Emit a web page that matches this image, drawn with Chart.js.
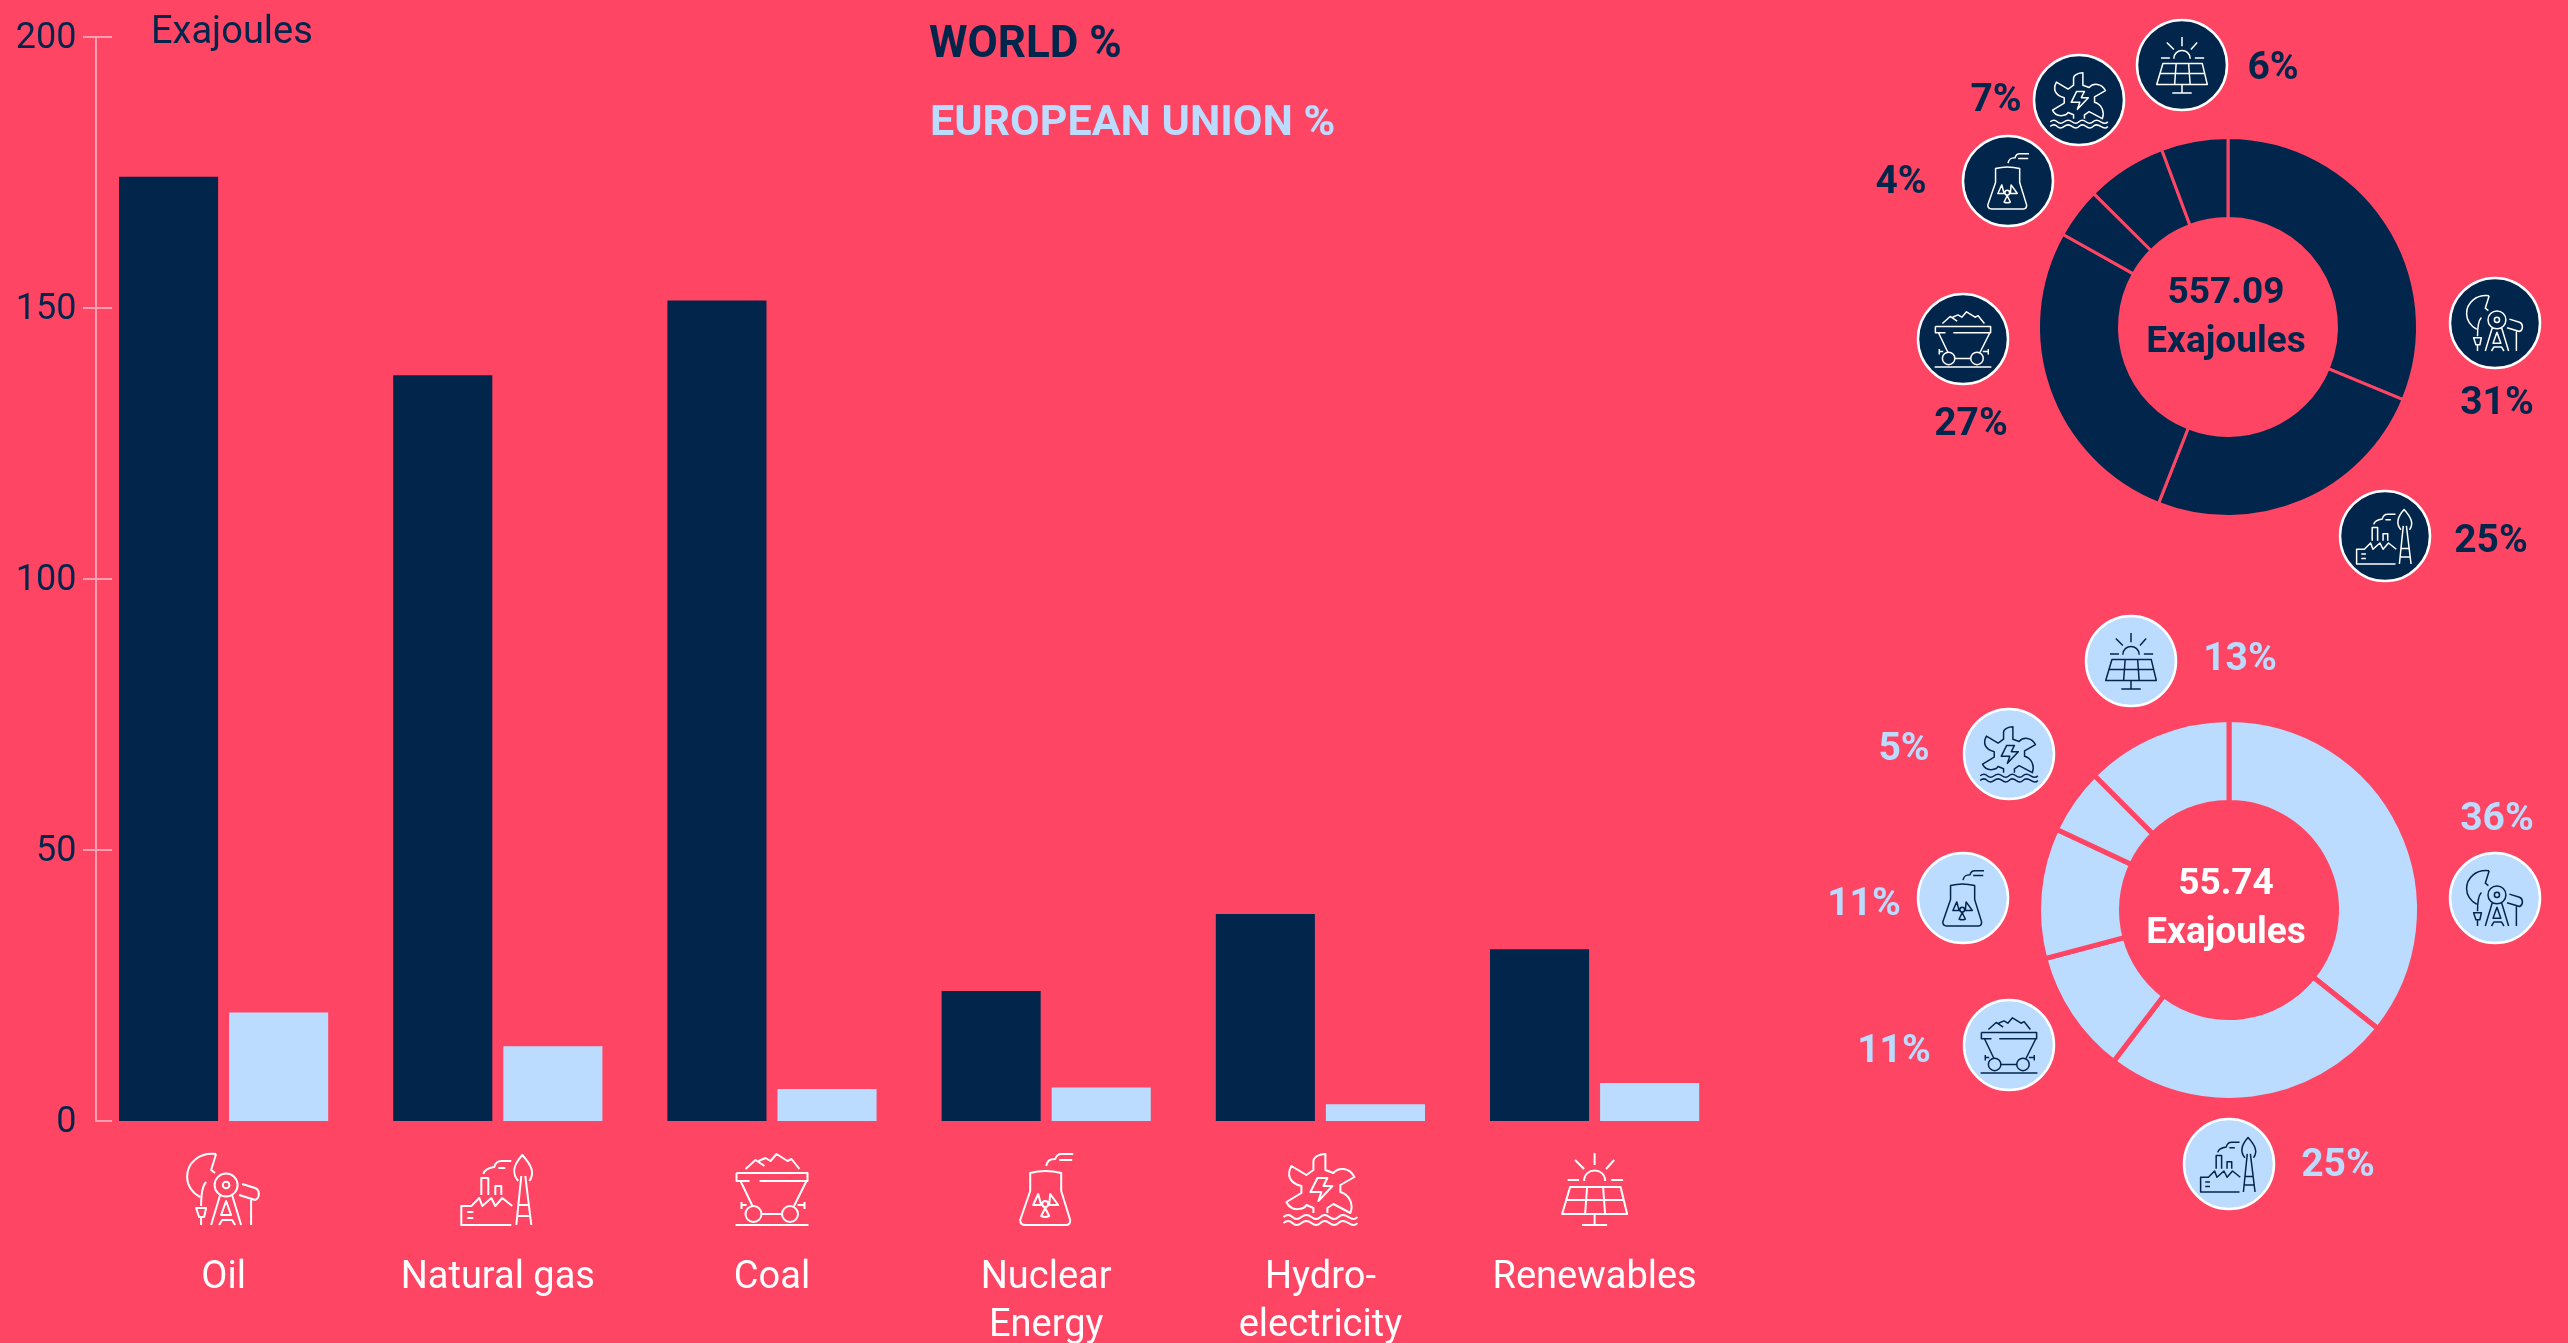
<!DOCTYPE html>
<html>
<head>
<meta charset="utf-8">
<script src="https://cdn.jsdelivr.net/npm/chart.js@4"></script>
<style>
  html, body { margin: 0; padding: 0; background: #ff4564; overflow: hidden; }
  canvas { position: absolute; display: block; }
</style>
</head>
<body>
<canvas id="bars" width="2568" height="1343" style="left:0;top:0"></canvas>
<canvas id="world" width="400" height="400" style="left:2028px;top:127px"></canvas>
<canvas id="eu" width="400" height="400" style="left:2029px;top:710px"></canvas>
<script>
const categories = ['Oil', 'Natural gas', 'Coal', ['Nuclear', 'Energy'], ['Hydro-', 'electricity'], 'Renewables'];
const worldValues = [174.2, 137.6, 151.4, 24.0, 38.2, 31.7];
const euValues = [20.0, 13.8, 5.9, 6.2, 3.1, 7.0];
const worldShare = ['31%', '25%', '27%', '4%', '7%', '6%'];
const euShare = ['36%', '25%', '11%', '11%', '5%', '13%'];
const yTicks = [0, 50, 100, 150, 200];

const RED = '#ff4564';
const NAVY = '#02264b';
const SKY = '#bcdcff';
const FONT = 'Roboto, sans-serif';

// icons are drawn in a box 72 high, iconWidths gives the width of each
const iconWidths = [73, 73, 73, 54, 74, 65];
const icons = [
  // oil
  ['M29 1C12-1 0 10 0 24C0 32 5 40 13 44M29 1L24 17L28 20M19 29C15 33 14 40 14 53M9 55H19L17 64H12ZM14 64V72',
   'M50.5 32A11.5 11.5 0 1 1 27.5 32A11.5 11.5 0 1 1 50.5 32M42.3 32A3.3 3.3 0 1 1 35.7 32A3.3 3.3 0 1 1 42.3 32',
   'M33 42L24 72M45 42L54 72M39 48L34 62H44ZM32 72L35 67H45L48 72',
   'M55 31L68 35C73 37 73 45 68 47L52 42M64 47V72'],
  // natural gas
  ['M50 72H0V53H10L18 45L21 53L30 45L34 53L41 45L51 53M6 59H12M6 65H12',
   'M20 42V25H27V42M34 42V33H40V42M22 21C23 17 26 15 33 14C34 10 36 8 40 8H50M37 15H44',
   'M57 28C50 20 52 12 61 2C70 12 74 20 68 28M60 23L55 72M64 23L70 72M57 52H67M56 63H69'],
  // coal
  ['M1 20H72V28H24M14 28H1V20M5 28L17 53M71 28L58.5 53M6 52H11M6 49V56M62 52H69M69 49V56M26 61H46M0 72H73',
   'M26 61A8 8 0 1 1 10 61A8 8 0 1 1 26 61M62.5 61A8 8 0 1 1 46.5 61A8 8 0 1 1 62.5 61',
   'M10 16L20 7L29 13M23 8L30 5L35 8L41 1L52 8L56 6L64 16'],
  // nuclear
  ['M11 20Q26 16 42 20V38L51 67Q51 72 47 72H6Q1 72 1 67L11 38ZM27 13C28 8 30 6 36 6C37 3 39 1 42 1H54M40 7H53',
   'M19 41L14 52H22ZM31 41L39 52H30ZM22 63Q26 65 30 63L26 55ZM29 51A3 3 0 1 1 23 51A3 3 0 1 1 29 51'],
  // hydro
  ['M30 60V55L23 52C21 56 8 60 3 49L18 40V33C6 30 3 22 8 13L23 22L30 17V8C30 4 36 1 42 1V17L50 20C55 14 66 14 71 24L57 32V39C67 42 70 52 67 60L50 51L44 55V60',
   'M34 25H44L40 33H49L35 48L38 39H27Z',
   'M0 64Q5 60 9 64T18 64T28 64T37 64T46 64T55 64T65 64T74 64M0 70Q5 66 9 70T18 70T28 70T37 70T46 70T55 70T65 70T74 70'],
  // renewables
  ['M32.5 0V12M13 7L22 16M52 7L44 16M5.5 27H17M49 27H61M22 28C22 14 43 14 43 28',
   'M8 34H58.5L65 61H0ZM4 47H61M25 34L23 61M41 34L43 61M32.5 61V72M20 72H45']
];
const iconPaths = icons.map(parts => new Path2D(parts.join('')));

// where the round badges and their numbers sit on the page
const worldBadges = [[2495, 323], [2385, 536], [1963, 339], [2008, 181], [2079, 100], [2182, 65]];
const worldLabels = [[2497, 401], [2491, 539], [1971, 422], [1901, 180], [1996, 98], [2273, 66]];
const euBadges = [[2495, 898], [2229, 1164], [2009, 1045], [1963, 898], [2009, 754], [2131, 661]];
const euLabels = [[2497, 817], [2338, 1163], [1894, 1049], [1864, 902], [1904, 747], [2240, 657]];

function drawIcon(ctx, idx, cx, cy, size, color, lw) {
  const s = size / 72;
  ctx.save();
  ctx.translate(cx - iconWidths[idx] / 2 * s, cy - 36 * s);
  ctx.scale(s, s);
  ctx.strokeStyle = color;
  ctx.lineWidth = lw / s;
  ctx.lineJoin = 'round';
  ctx.stroke(iconPaths[idx]);
  ctx.restore();
}

function drawBadges(ctx, badges, labels, share, fill, iconColor) {
  badges.forEach((b, i) => {
    ctx.beginPath();
    ctx.arc(b[0], b[1], 45, 0, Math.PI * 2);
    ctx.fillStyle = fill;
    ctx.fill();
    ctx.lineWidth = 2.5;
    ctx.strokeStyle = '#ffffff';
    ctx.stroke();
    drawIcon(ctx, i, b[0], b[1], 56, iconColor, 1.5);
    ctx.fillStyle = fill;
    ctx.font = 'bold 39px ' + FONT;
    ctx.fillText(share[i], labels[i][0], labels[i][1] + 3);
  });
}

const pagePlugin = {
  id: 'page',
  afterDatasetsDraw(chart) {
    const ctx = chart.ctx;
    const y = chart.scales.y;
    const x = chart.scales.x;
    ctx.save();
    // y axis line and its ticks
    ctx.strokeStyle = '#ff9fb0';
    ctx.lineWidth = 2;
    ctx.beginPath();
    ctx.moveTo(96, y.getPixelForValue(200));
    ctx.lineTo(96, y.getPixelForValue(0));
    yTicks.forEach(t => {
      const p = y.getPixelForValue(t);
      ctx.moveTo(t === 0 ? 95 : 83, p);
      ctx.lineTo(112, p);
    });
    ctx.stroke();

    ctx.textBaseline = 'middle';
    ctx.textAlign = 'left';
    ctx.fillStyle = NAVY;
    ctx.font = '38px ' + FONT;
    ctx.fillText('Exajoules', 151, 33);
    ctx.font = 'bold 44px ' + FONT;
    ctx.fillText('WORLD %', 929, 46);
    ctx.fillStyle = SKY;
    ctx.font = 'bold 43px ' + FONT;
    ctx.fillText('EUROPEAN UNION %', 930, 124);

    categories.forEach((c, i) => {
      drawIcon(ctx, i, x.getPixelForValue(i), 1189, 72, '#ffffff', 2);
    });

    ctx.textAlign = 'center';
    drawBadges(ctx, worldBadges, worldLabels, worldShare, NAVY, '#ffffff');
    drawBadges(ctx, euBadges, euLabels, euShare, SKY, NAVY);

    ctx.font = 'bold 37px ' + FONT;
    ctx.fillStyle = NAVY;
    ctx.fillText('557.09', 2226, 294);
    ctx.fillText('Exajoules', 2226, 343);
    ctx.fillStyle = '#ffffff';
    ctx.fillText('55.74', 2226, 885);
    ctx.fillText('Exajoules', 2226, 934);
    ctx.restore();
  }
};

new Chart(document.getElementById('bars'), {
  type: 'bar',
  plugins: [pagePlugin],
  data: {
    labels: categories,
    datasets: [
      { label: 'World', data: worldValues, backgroundColor: NAVY },
      { label: 'European Union', data: euValues, backgroundColor: SKY }
    ]
  },
  options: {
    responsive: false,
    animation: false,
    events: [],
    categoryPercentage: 0.803,
    barPercentage: 0.9,
    layout: { padding: { top: 37, right: 836.3, left: 0, bottom: 0 } },
    plugins: { legend: { display: false }, tooltip: { enabled: false } },
    scales: {
      x: {
        grid: { display: false },
        border: { display: false },
        afterFit: scale => { scale.height = 222; },
        ticks: {
          color: '#ffffff',
          font: { family: FONT, size: 38, lineHeight: 1.27 },
          padding: 125,
          maxRotation: 0,
          autoSkip: false
        }
      },
      y: {
        min: 0,
        max: 200,
        grid: { display: false },
        border: { display: false },
        afterFit: scale => { scale.width = 86.5; },
        ticks: {
          color: NAVY,
          font: { family: FONT, size: 36 },
          stepSize: 50,
          padding: 2,
          labelOffset: 2
        }
      }
    }
  }
});

function donut(id, values, color, gap) {
  const outer = 188 + gap / 2;
  const inner = 110 - gap / 2;
  new Chart(document.getElementById(id), {
    type: 'doughnut',
    data: {
      labels: categories.map(c => [].concat(c).join(' ')),
      datasets: [{ data: values, backgroundColor: color, borderColor: RED, borderWidth: gap }]
    },
    options: {
      responsive: false,
      animation: false,
      events: [],
      radius: outer,
      cutout: (inner / outer * 100) + '%',
      plugins: { legend: { display: false }, tooltip: { enabled: false } }
    }
  });
}
donut('world', worldValues, NAVY, 3);
donut('eu', euValues, SKY, 5);
</script>
</body>
</html>
